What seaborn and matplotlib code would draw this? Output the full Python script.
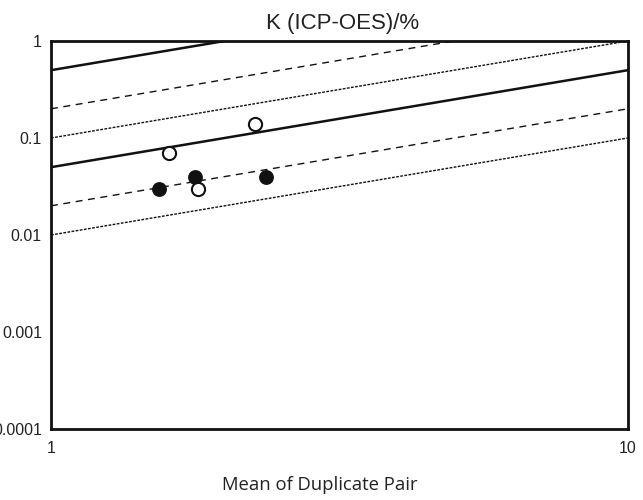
import numpy as np
import pandas as pd
import matplotlib
matplotlib.use('Agg')
import matplotlib.pyplot as plt
import seaborn as sns

# Duplicate pair data (mean of pair vs. difference)
open_x = [1.60, 1.80, 2.26]
open_y = [0.07, 0.03, 0.14]
filled_x = [1.54, 1.78, 2.36]
filled_y = [0.03, 0.04, 0.04]

# Reference lines y = k * x
line_x = [1, 10]
solid_k = [0.05, 0.5]
dashed_k = [0.02, 0.2]
dotted_k = [0.01, 0.1]

sns.set_style('white')
plt.rcParams['font.family'] = ['Liberation Sans', 'DejaVu Sans']

fig = plt.figure(figsize=(6.43, 5.0), dpi=100)
ax = fig.add_axes([0.0793, 0.142, 0.897, 0.776])

styles = [(solid_k, '-', 1.8), (dashed_k, (0, (5, 4)), 1.0), (dotted_k, (0, (2, 1)), 1.0)]
for ks, ls, lw in styles:
    for k in ks:
        df = pd.DataFrame({'x': line_x, 'y': [k * v for v in line_x]})
        sns.lineplot(data=df, x='x', y='y', ax=ax, color='#111111',
                     linestyle=ls, linewidth=lw, zorder=2)

sns.scatterplot(x=filled_x, y=filled_y, ax=ax, color='#111111', s=90,
                edgecolor='#111111', linewidth=1.2, zorder=3)
sns.scatterplot(x=open_x, y=open_y, ax=ax, facecolor='white', s=90,
                edgecolor='#111111', linewidth=1.5, zorder=3)

ax.set_xscale('log')
ax.set_yscale('log')
ax.set_xlim(1, 10)
ax.set_ylim(0.0001, 1)
ax.set_xticks([1, 10])
ax.set_xticklabels(['1', '10'])
ax.set_yticks([0.0001, 0.001, 0.01, 0.1, 1])
ax.set_yticklabels(['0.0001', '0.001', '0.01', '0.1', '1'])
ax.minorticks_off()
ax.tick_params(axis='x', which='major', direction='inout', length=9, width=1.2,
               labelsize=11.5, pad=4, colors='#222222')
ax.tick_params(axis='y', which='major', direction='out', length=5, width=1.2,
               labelsize=11.5, pad=1.5, colors='#222222')
for sp in ax.spines.values():
    sp.set_linewidth(2)
    sp.set_color('#111111')

ax.set_xlabel('')
ax.set_ylabel('')
fig.text(0.533, 0.954, 'K (ICP-OES)/%', fontsize=16, color='#222222',
         ha='center', va='center')
fig.text(0.4977, 0.03, 'Mean of Duplicate Pair', fontsize=13.3, color='#222222',
         family=['Open Sans', 'DejaVu Sans'], ha='center', va='center')

fig.savefig('out.png', dpi=100)
